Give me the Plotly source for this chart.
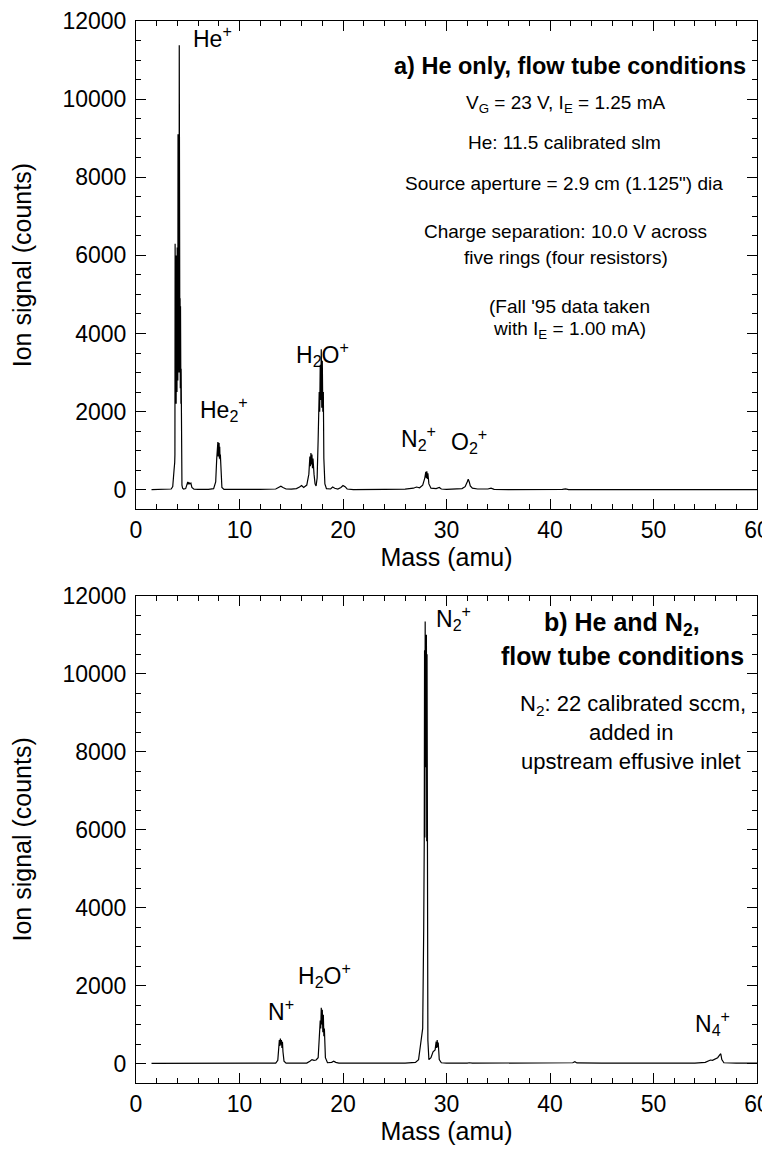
import plotly.graph_objects as go

# ---- Panel a) He only ----
mass_a = [1.5, 2.0, 2.5, 3.0, 3.4, 3.55, 3.62, 3.68, 3.74, 3.76, 3.78, 3.80, 3.82, 3.84, 3.86, 3.88, 3.90,
          3.92, 3.94, 3.96, 3.98, 4.00, 4.02, 4.04, 4.06, 4.08, 4.10, 4.12, 4.14, 4.16, 4.18, 4.20, 4.22,
          4.24, 4.26, 4.28, 4.30, 4.32, 4.34, 4.36, 4.38, 4.40, 4.44, 4.50, 4.6, 4.8, 4.9, 5.0, 5.05, 5.1,
          5.2, 5.3, 5.4, 5.6, 6.0, 7.0, 7.5, 7.7, 7.8, 7.85, 7.88, 7.91, 7.94, 7.97, 8.00, 8.03, 8.06,
          8.09, 8.12, 8.15, 8.2, 8.3, 8.5, 10.0, 12.0, 13.5, 13.8, 14.0, 14.2, 14.5, 15.0, 15.5, 15.8,
          16.0, 16.2, 16.5, 16.7, 16.8, 16.85, 16.9, 16.95, 17.0, 17.05, 17.1, 17.2, 17.3, 17.4, 17.5,
          17.6, 17.7, 17.75, 17.8, 17.85, 17.9, 17.95, 18.0, 18.05, 18.1, 18.15, 18.25, 18.4, 18.8, 19.0,
          19.2, 19.5, 19.8, 20.0, 20.2, 20.4, 21.0, 24.0, 26.0, 26.8, 27.1, 27.4, 27.7, 27.9, 28.0, 28.05,
          28.1, 28.15, 28.2, 28.3, 28.5, 29.0, 29.3, 29.5, 30.0, 31.5, 31.8, 32.0, 32.1, 32.2, 32.3, 32.5,
          33.0, 34.0, 34.3, 34.6, 36.0, 41.2, 41.5, 41.8, 44.3, 44.5, 44.8, 50.0, 55.0, 60.0]
signal_a = [5, 8, 5, 10, 20, 80, 500, 520, 700, 900, 6300, 2400, 6100, 2300, 5800, 2200, 6000,
            2600, 5400, 2500, 6200, 3000, 5600, 2800, 9100, 3400, 8900, 4200, 6000, 3000, 11380, 4800, 11200,
            3200, 4900, 2600, 4700, 3000, 2200, 3100, 1800, 600, 120, 40, 20, 30, 120, 200, 140, 190,
            150, 170, 60, 15, 10, 10, 30, 200, 800, 1150, 900, 1220, 850, 1180, 1000, 1200, 800,
            1100, 780, 900, 400, 60, 10, 5, 10, 20, 60, 90, 60, 20, 15, 30, 70,
            110, 60, 120, 400, 850, 600, 940, 650, 900, 550, 800, 400, 150, 100, 300,
            1300, 2500, 2000, 3200, 2300, 3600, 2100, 3300, 2000, 2500, 800, 150, 30, 20, 70,
            40, 20, 60, 110, 80, 20, 5, 10, 15, 40, 70, 50, 120, 300, 460, 300,
            470, 280, 420, 150, 40, 30, 60, 20, 10, 30, 80, 200, 270, 200, 100, 40,
            20, 20, 40, 10, 5, 10, 25, 5, 10, 22, 5, 5, 5, 5]

# ---- Panel b) He and N2 ----
mass_b = [1.5, 5.0, 10.0, 13.5, 13.7, 13.8, 13.85, 13.9, 13.95, 14.0, 14.05, 14.1, 14.15, 14.2, 14.3, 14.5,
          16.5, 16.8, 17.0, 17.2, 17.4, 17.6, 17.7, 17.8, 17.85, 17.9, 17.95, 18.0, 18.05, 18.1, 18.15,
          18.2, 18.3, 18.5, 18.9, 19.1, 19.3, 19.6, 22.0, 26.0, 27.0, 27.3, 27.5, 27.6, 27.7, 27.8, 27.85,
          27.88, 27.91, 27.94, 27.97, 28.0, 28.03, 28.06, 28.09, 28.12, 28.15, 28.2, 28.3, 28.5, 28.7,
          28.9, 29.0, 29.05, 29.1, 29.15, 29.2, 29.3, 29.5, 30.0, 32.0, 32.2, 32.5, 40.0, 42.2, 42.4, 42.6,
          45.0, 54.0, 55.0, 55.3, 55.5, 55.7, 56.0, 56.2, 56.4, 56.5, 56.6, 56.8, 58.0, 60.0]
signal_b = [5, 5, 8, 10, 80, 350, 600, 450, 640, 480, 600, 400, 560, 300, 60, 10,
            10, 60, 100, 80, 90, 150, 600, 1100, 900, 1430, 1000, 1380, 800, 1250, 700,
            900, 150, 20, 30, 60, 30, 10, 10, 10, 30, 100, 500, 700, 900, 3500, 5700,
            10600, 5800, 11340, 7600, 10600, 7600, 11000, 5700, 10500, 5800, 600, 100, 150, 300,
            350, 560, 400, 600, 420, 540, 100, 20, 10, 10, 20, 8, 10, 20, 45, 15,
            10, 10, 30, 70, 90, 80, 110, 150, 220, 250, 100, 20, 10, 10]

FONT = "Liberation Sans, Arial, Helvetica, sans-serif"
TICK = 23
TITLE = 25
PEAK = 23

fig = go.Figure()
fig.add_trace(go.Scatter(x=mass_a, y=signal_a, mode="lines", line=dict(color="black", width=1.2),
                         xaxis="x", yaxis="y", showlegend=False, hoverinfo="skip"))
fig.add_trace(go.Scatter(x=mass_b, y=signal_b, mode="lines", line=dict(color="black", width=1.2),
                         xaxis="x2", yaxis="y2", showlegend=False, hoverinfo="skip"))

xcommon = dict(range=[0, 60], tick0=0, dtick=10, ticks="inside", ticklen=10, tickwidth=1,
               tickcolor="black", showline=True, linecolor="black", linewidth=1, mirror="ticks",
               showgrid=False, zeroline=False, automargin=False, tickformat="d",
               ticklabeloverflow="allow",
               minor=dict(dtick=2, ticks="inside", ticklen=5, tickcolor="black", tickwidth=1, showgrid=False),
               tickfont=dict(family=FONT, size=TICK, color="black"),
               title=dict(text="Mass (amu)", font=dict(family=FONT, size=TITLE, color="black"), standoff=0))
ycommon = dict(range=[-500, 12000], tick0=0, dtick=2000, ticks="inside", ticklen=10, tickwidth=1,
               tickcolor="black", showline=True, linecolor="black", linewidth=1, mirror="ticks",
               showgrid=False, zeroline=False, automargin=False, tickformat="d",
               ticklabeloverflow="allow",
               minor=dict(dtick=500, ticks="inside", ticklen=5, tickcolor="black", tickwidth=1, showgrid=False),
               tickfont=dict(family=FONT, size=TICK, color="black"), ticklabelstandoff=4,
               title=dict(text="Ion signal (counts)", font=dict(family=FONT, size=TITLE, color="black"), standoff=26))

fig.update_layout(
    width=770, height=1149,
    margin=dict(l=128, r=21, t=13, b=73.5),
    paper_bgcolor="white", plot_bgcolor="white",
    xaxis=dict(**xcommon, anchor="y"),
    yaxis=dict(**ycommon, domain=[0.5402, 1.0], anchor="x"),
    xaxis2=dict(**xcommon, anchor="y2"),
    yaxis2=dict(**ycommon, domain=[0.0, 0.4588], anchor="x2"),
)

def note(text, x, y, xr="x", yr="y", size=19, xanchor="center"):
    fig.add_annotation(text=text, x=x, y=y, xref=xr, yref=yr, showarrow=False,
                       xanchor=xanchor, yanchor="middle",
                       font=dict(family=FONT, size=size, color="black"))

# panel a labels
note("He<sup>+</sup>", 5.3, 11600, xanchor="left", size=PEAK)
note("He<sub>2</sub><sup>+</sup>", 5.95, 2070, xanchor="left", size=PEAK)
note("H<sub>2</sub>O<sup>+</sup>", 15.3, 3480, xanchor="left", size=PEAK)
note("N<sub>2</sub><sup>+</sup>", 25.4, 1320, xanchor="left", size=PEAK)
note("O<sub>2</sub><sup>+</sup>", 30.2, 1240, xanchor="left", size=PEAK)
note("<b>a) He only, flow tube conditions</b>", 59.1, 10840, xanchor="right", size=23.5)
note("V<sub>G</sub> = 23 V, I<sub>E</sub> = 1.25 mA", 41.5, 9880)
note("He: 11.5 calibrated slm", 41.4, 8880)
note("Source aperture = 2.9 cm (1.125\") dia", 41.4, 7830)
note("Charge separation: 10.0 V across", 41.5, 6610)
note("five rings (four resistors)", 41.5, 5940)
note("(Fall '95 data taken", 41.9, 4700, size=19)
note("with I<sub>E</sub> = 1.00 mA)", 41.9, 4080, size=19)

# panel b labels
note("N<sub>2</sub><sup>+</sup>", 28.8, 11420, xr="x2", yr="y2", xanchor="left", size=PEAK)
note("<b>b) He and N<sub>2</sub>,</b>", 47.0, 11280, xr="x2", yr="y2", size=25)
note("<b>flow tube conditions</b>", 47.0, 10460, xr="x2", yr="y2", size=25)
note("N<sub>2</sub>: 22 calibrated sccm,", 48.0, 9200, xr="x2", yr="y2", size=22)
note("added in", 47.8, 8480, xr="x2", yr="y2", size=22)
note("upstream effusive inlet", 47.8, 7740, xr="x2", yr="y2", size=22)
note("N<sup>+</sup>", 12.6, 1370, xr="x2", yr="y2", xanchor="left", size=PEAK)
note("H<sub>2</sub>O<sup>+</sup>", 15.5, 2270, xr="x2", yr="y2", xanchor="left", size=PEAK)
note("N<sub>4</sub><sup>+</sup>", 53.8, 1040, xr="x2", yr="y2", xanchor="left", size=PEAK)

fig.write_html("out.html")
